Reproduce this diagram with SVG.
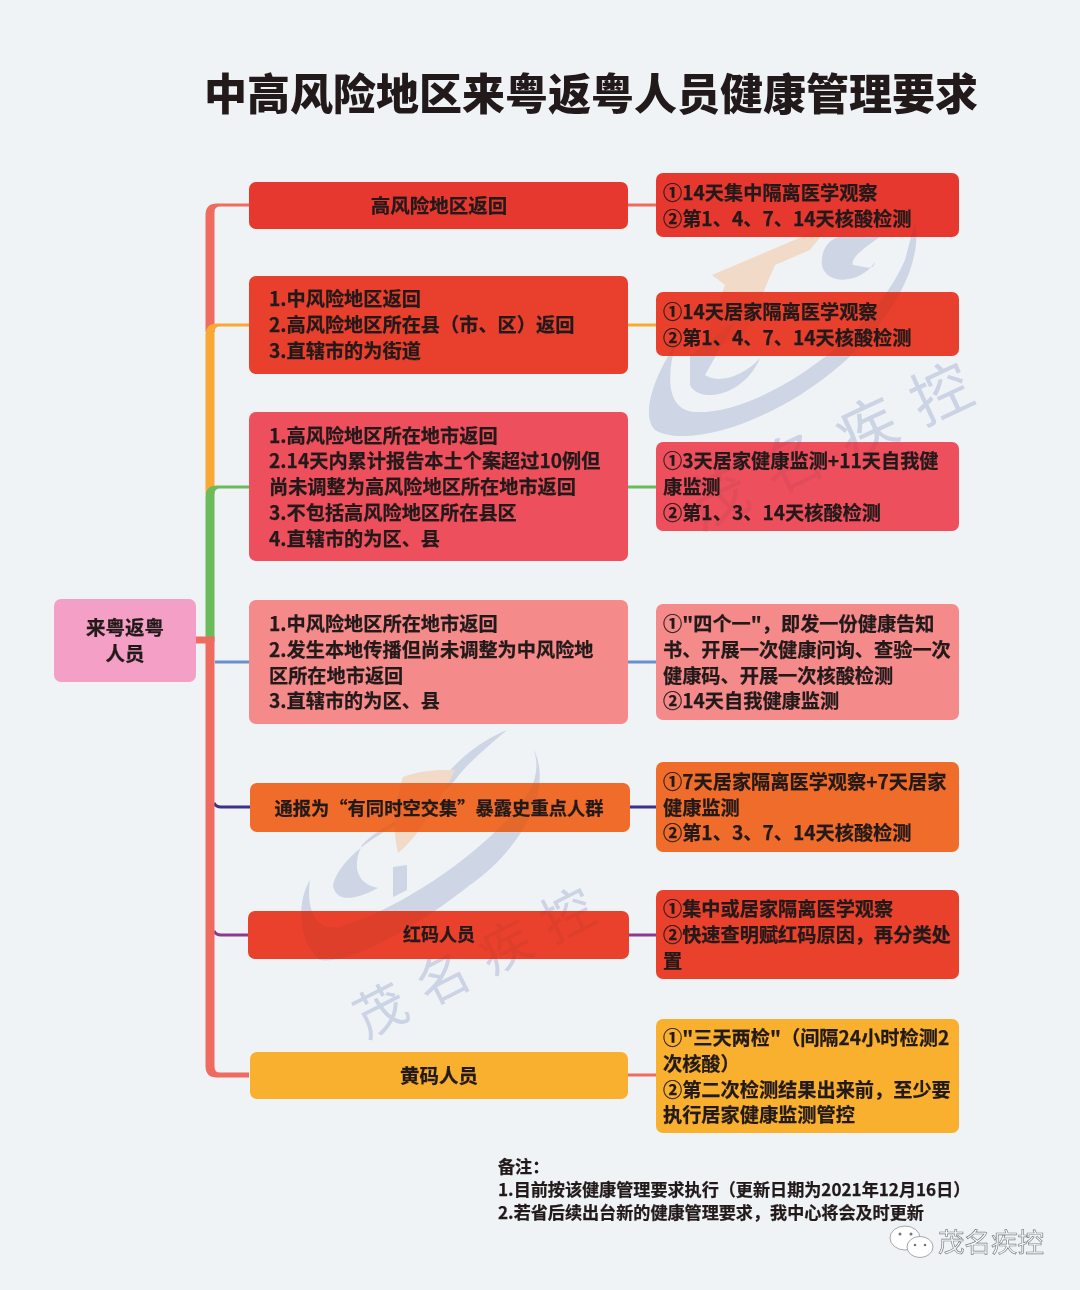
<svg xmlns="http://www.w3.org/2000/svg" width="1080" height="1290" viewBox="0 0 1080 1290">
<style>
text{font-family:"Noto Sans CJK SC","Liberation Sans",sans-serif;font-weight:700;fill:#221a1a;stroke:#221a1a;stroke-width:.25px}
.t{font-size:19.2px}
.c{font-size:19.500px;text-anchor:middle}
.n{font-size:17.100px}
.br{fill:none;stroke-width:3}
.wb{fill:#d8deeb}
.wo{fill:#f4e2d2}
text.wt{font-weight:400;fill:#d6dcea;stroke:none}
.over{mix-blend-mode:multiply;opacity:.3}
</style>
<defs>
<g id="wm1">
<path class="wb" d="M915 222C925 270 880 345 800 395C740 432 680 445 655 430C640 415 655 375 675 345C665 385 670 410 695 412C760 415 870 340 905 260Z"/>
<path class="wb" d="M880 237C860 250 850 260 853 265C870 268 873 270 875 262C860 285 825 285 822 265C820 250 830 238 840 237Z"/>
<path class="wo" d="M712 275L830 225L810 250L775 265L745 335L700 355L725 285Z"/>
<path class="wb" d="M690 355L735 322L705 375C720 385 745 375 760 358C745 395 700 405 690 385Z"/>
<text class="wt" transform="translate(700 530) rotate(-25)" style="font-size:60px;letter-spacing:22px">茂名疾控</text>
</g>
<g id="wm2">
<path class="wb" d="M507 730C470 745 440 775 420 815C390 825 340 855 333 885C335 900 350 903 378 888C360 885 350 870 362 845C385 820 430 810 455 780C470 760 490 745 507 730Z"/>
<path class="wb" d="M533 748C555 790 520 850 470 885C420 925 350 965 320 960C300 945 295 905 310 880C305 915 320 935 345 925C410 905 500 840 530 790C538 775 538 760 533 748Z"/>
<path class="wb" d="M393 867L407 865L407 890L393 897Z"/>
<path class="wo" d="M403 777C420 770 440 770 455 770C440 800 420 835 398 853C392 830 395 800 403 777Z"/>
<text class="wt" transform="translate(366 1039) rotate(-27)" style="font-size:52px;letter-spacing:18px">茂名疾控</text>
</g>
</defs>
<rect width="1080" height="1290" fill="#eff3f6"/>
<use href="#wm1"/><use href="#wm2"/>
<text id="title" x="204" y="110" style="font-weight:900;font-size:43px;stroke:none">中高风险地区来粤返粤人员健康管理要求</text>

<g id="connectors">
<path class="br" stroke="#ef6a5f" d="M628 205H656"/>
<path class="br" stroke="#f9a834" d="M628 325H656"/>
<path class="br" stroke="#6cbb5a" d="M628 487H656"/>
<path class="br" stroke="#6b8fcb" d="M215 662H249M628 662H656"/>
<path class="br" stroke="#3d2f8c" d="M214 803Q216 807 221 807H250M630 807H656"/>
<path class="br" stroke="#8b3a8e" d="M214 931Q216 935 221 935H248M629 935H656"/>
<path class="br" stroke="#ef6a5f" d="M628 1075H656"/>
<path fill="#ef6a5f" d="M205.500 332V215Q205.500 203.500 217 203.500H249V206.500H220Q214.500 206.500 214.500 212V332Z"/>
<path fill="#f9a834" d="M205.500 494V335Q205.500 323.500 217 323.500H249V326.500H220Q214.500 326.500 214.500 332V494Z"/>
<path fill="#6cbb5a" d="M205.500 642V497Q205.500 485.500 217 485.500H249V488.500H220Q214.500 488.500 214.500 494V642Z"/>
<path fill="#ef6a5f" d="M196 636.500H214.500V1067Q214.500 1072.500 220 1072.500H249V1077.500H217Q205.500 1077.500 205.500 1066V643.500H196Z"/>
</g>

<g id="node-root"><rect x="54" y="599" width="142" height="83" rx="7" fill="#f49fc5"/><text class="c" x="125" y="635">来粤返粤</text><text class="c" x="125" y="661">人员</text></g>

<g id="node-l1"><rect x="249" y="182" width="379" height="47" rx="7" fill="#e6382e"/><text class="c" x="439" y="213">高风险地区返回</text></g>
<g id="node-l2"><rect x="249" y="276" width="379" height="98" rx="7" fill="#e8402c"/><text class="t" x="269" y="306">1.中风险地区返回</text><text class="t" x="269" y="332">2.高风险地区所在县（市、区）返回</text><text class="t" x="269" y="358">3.直辖市的为街道</text></g>
<g id="node-l3"><rect x="249" y="412" width="379" height="149" rx="7" fill="#ee4f5c"/><text class="t" x="269" y="443">1.高风险地区所在地市返回</text><text class="t" x="269" y="468">2.14天内累计报告本土个案超过10例但</text><text class="t" x="269" y="494">尚未调整为高风险地区所在地市返回</text><text class="t" x="269" y="520">3.不包括高风险地区所在县区</text><text class="t" x="269" y="546">4.直辖市的为区、县</text></g>
<g id="node-l4"><rect x="249" y="600" width="379" height="124" rx="7" fill="#f48a8a"/><text class="t" x="269" y="631">1.中风险地区所在地市返回</text><text class="t" x="269" y="657">2.发生本地传播但尚未调整为中风险地</text><text class="t" x="269" y="683">区所在地市返回</text><text class="t" x="269" y="708">3.直辖市的为区、县</text></g>
<g id="node-l5"><rect x="250" y="783" width="380" height="49" rx="7" fill="#f06c2a"/><text class="c" x="439" y="815" style="font-size:18.300px">通报为“有同时空交集”暴露史重点人群</text></g>
<g id="node-l6"><rect x="248" y="911" width="381" height="48" rx="7" fill="#e9412c"/><text class="c" x="439" y="941" style="font-size:18px">红码人员</text></g>
<g id="node-l7"><rect x="250" y="1052" width="378" height="47" rx="7" fill="#f9b02e"/><text class="c" x="439" y="1083">黄码人员</text></g>

<g id="node-r1"><rect x="656" y="173" width="303" height="64" rx="7" fill="#e6382e"/><text class="t" x="663" y="200">①14天集中隔离医学观察</text><text class="t" x="663" y="226">②第1、4、7、14天核酸检测</text></g>
<g id="node-r2"><rect x="656" y="292" width="303" height="64" rx="7" fill="#e8402c"/><text class="t" x="663" y="319">①14天居家隔离医学观察</text><text class="t" x="663" y="345">②第1、4、7、14天核酸检测</text></g>
<g id="node-r3"><rect x="656" y="442" width="303" height="89" rx="7" fill="#ee4f5c"/><text class="t" x="663" y="468">①3天居家健康监测+11天自我健</text><text class="t" x="663" y="494">康监测</text><text class="t" x="663" y="520">②第1、3、14天核酸检测</text></g>
<g id="node-r4"><rect x="656" y="604" width="303" height="116" rx="7" fill="#f48a8a"/><text class="t" x="663" y="631">①"四个一"，即发一份健康告知</text><text class="t" x="663" y="657">书、开展一次健康问询、查验一次</text><text class="t" x="663" y="683">健康码、开展一次核酸检测</text><text class="t" x="663" y="708">②14天自我健康监测</text></g>
<g id="node-r5"><rect x="656" y="762" width="303" height="90" rx="7" fill="#f06c2a"/><text class="t" x="663" y="789">①7天居家隔离医学观察+7天居家</text><text class="t" x="663" y="815">健康监测</text><text class="t" x="663" y="840">②第1、3、7、14天核酸检测</text></g>
<g id="node-r6"><rect x="656" y="890" width="303" height="89" rx="7" fill="#e9412c"/><text class="t" x="663" y="916">①集中或居家隔离医学观察</text><text class="t" x="663" y="942">②快速查明赋红码原因，再分类处</text><text class="t" x="663" y="968">置</text></g>
<g id="node-r7"><rect x="656" y="1019" width="303" height="114" rx="7" fill="#f9b02e"/><text class="t" x="663" y="1045">①"三天两检"（间隔24小时检测2</text><text class="t" x="663" y="1071">次核酸）</text><text class="t" x="663" y="1097">②第二次检测结果出来前，至少要</text><text class="t" x="663" y="1122">执行居家健康监测管控</text></g>

<use href="#wm1" class="over"/><use href="#wm2" class="over"/>

<g id="note">
<text class="n" x="498" y="1173">备注：</text>
<text class="n" x="498" y="1196">1.目前按该健康管理要求执行（更新日期为2021年12月16日）</text>
<text class="n" x="498" y="1219">2.若省后续出台新的健康管理要求，我中心将会及时更新</text>
</g>

<g id="wechat-mark">
<ellipse cx="905" cy="1238" rx="15" ry="12" fill="#fff" stroke="#a3a8ad"/>
<ellipse cx="920" cy="1247" rx="13" ry="10.500" fill="#fff" stroke="#a3a8ad"/>
<circle cx="900" cy="1234" r="1.500" fill="#777"/><circle cx="911" cy="1234" r="1.500" fill="#777"/>
<circle cx="915" cy="1245" r="1.300" fill="#777"/><circle cx="925" cy="1245" r="1.300" fill="#777"/>
<text x="938" y="1252" style="font-size:26.500px;font-weight:400;fill:#fafbfc;stroke:#7d838a;stroke-width:.7px">茂名疾控</text>
</g>
</svg>
